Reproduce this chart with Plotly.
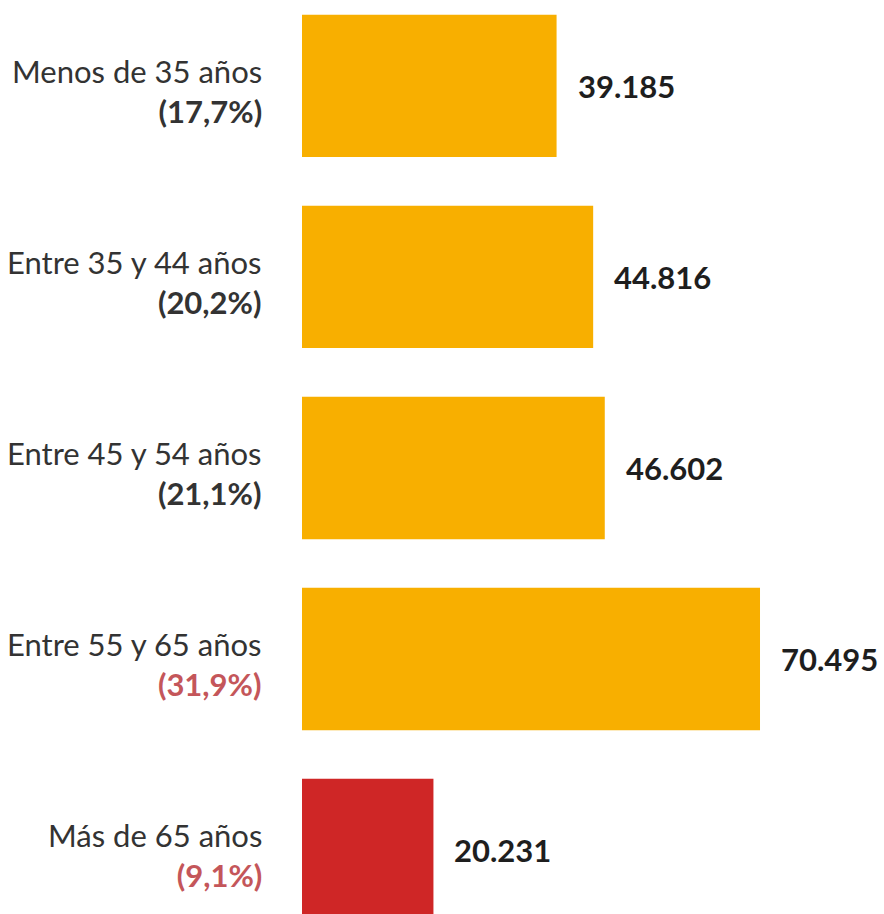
import plotly.graph_objects as go

categories = ["Menos de 35 años", "Entre 35 y 44 años", "Entre 45 y 54 años",
              "Entre 55 y 65 años", "Más de 65 años"]
values = [39185, 44816, 46602, 70495, 20231]
percents = [17.7, 20.2, 21.1, 31.9, 9.1]
highlight_pct = [False, False, False, True, True]
bar_colors = ["#F8AF00", "#F8AF00", "#F8AF00", "#F8AF00", "#CF2626"]

positions = list(range(len(categories)))


def fmt_int(v):
    return f"{v:,}".replace(",", ".")


def fmt_pct(p):
    return f"({p:.1f}%)".replace(".", ",")


fig = go.Figure()
fig.add_trace(go.Bar(
    x=values, y=positions, orientation="h",
    marker=dict(color=bar_colors, line=dict(width=0)),
    width=0.745, hoverinfo="skip",
))

for cat, p, hl, pos in zip(categories, percents, highlight_pct, positions):
    pct = fmt_pct(p)
    if hl:
        pct = f"<span style='color:#C4565A'>{pct}</span>"
    fig.add_annotation(
        x=0, y=pos, text=f"{cat}<br><b>{pct}</b>", showarrow=False,
        xanchor="right", yanchor="middle", align="right",
        xshift=-38, yshift=-5,
        font=dict(family="Lato", size=31, color="#333333"),
    )

for v, pos in zip(values, positions):
    fig.add_annotation(
        x=v, y=pos, text=f"<b>{fmt_int(v)}</b>", showarrow=False,
        xanchor="left", yanchor="middle", xshift=19,
        font=dict(family="Lato", size=31, color="#1E1E1E"),
    )

fig.update_layout(
    width=884, height=914,
    margin=dict(l=302, r=0, t=0, b=0),
    paper_bgcolor="white", plot_bgcolor="white",
    showlegend=False,
    xaxis=dict(range=[0, 89580], visible=False, fixedrange=True),
    yaxis=dict(
        range=[4.335, -0.45], visible=False,
        tickmode="array", tickvals=positions,
    ),
)

fig.write_html("out.html")
